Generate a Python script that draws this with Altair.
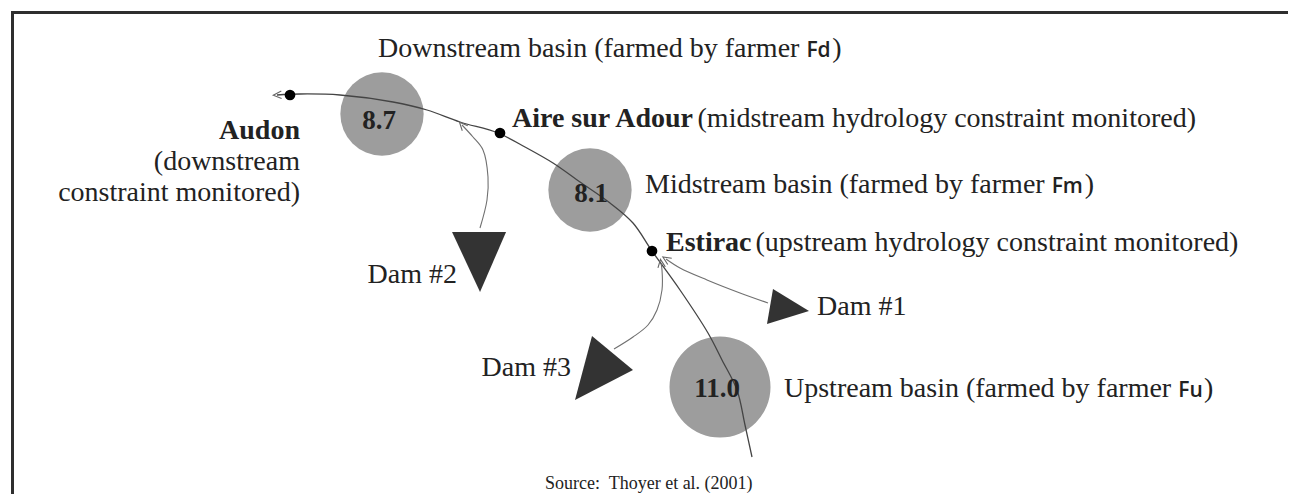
import math
import altair as alt
import pandas as pd

# ---------------- data (image-pixel coordinates of the diagram) ----------------
basin_values = ["8.7", "8.1", "11.0"]
basin_x = [382, 590, 720]
basin_y = [114, 190, 387]
basin_r = [47, 47, 57]
basin_label_x = [379, 591, 717]
basin_label_y = [129, 202, 397]

river_x = [752, 745, 737, 722, 708, 680, 652, 633, 610, 580, 553, 525, 498, 460, 427, 393, 340, 300, 277]
river_y = [457, 425, 390, 360, 333, 290, 251, 223, 203, 182, 163, 147, 133, 122, 110, 102, 95, 94, 95]

station_names = ["Audon", "Aire sur Adour", "Estirac"]
station_x = [290, 500, 652]
station_y = [95, 133, 251]

dam_names = ["Dam #1", "Dam #2", "Dam #3"]
dam_vx = [[773, 809, 767], [452, 506, 480], [592, 633, 575]]
dam_vy = [[289, 311, 324], [232, 232, 292], [336, 370, 400]]

arrow_x = [[768, 740, 707, 680, 666],
           [480, 487, 488, 483, 473, 462],
           [614, 633, 648, 657, 662, 662, 661]]
arrow_y = [[303, 293, 280, 268, 259],
           [228, 200, 177, 150, 137, 125],
           [349, 337, 325, 310, 290, 270, 263]]

title_down = "Downstream basin (farmed by farmer "
title_mid = "Midstream basin (farmed by farmer "
title_up = "Upstream basin (farmed by farmer "
farmers = ["Fd", "Fm", "Fu"]
aire_note = "(midstream hydrology constraint monitored)"
estirac_note = "(upstream hydrology constraint monitored)"
audon_note = ["(downstream", "constraint monitored)"]
source_text = "Source:\u00a0 Thoyer et al. (2001)"

# ---------------- layout helpers ----------------
W, H = 1280, 486
FS = 28
TIMES = {' ': 250, '(': 333, ')': 333, '#': 500, '.': 250, ':': 278,
         'A': 722, 'D': 722, 'E': 611, 'M': 889, 'S': 556, 'T': 611, 'U': 722, 'F': 556,
         'a': 444, 'b': 500, 'c': 444, 'd': 500, 'e': 444, 'f': 333, 'g': 500, 'h': 500,
         'i': 278, 'l': 278, 'm': 778, 'n': 500, 'o': 500, 'p': 500, 'r': 333, 's': 389,
         't': 278, 'u': 500, 'w': 722, 'y': 500}
TIMES_B = {' ': 250, 'A': 722, 'E': 667, 'a': 500, 'c': 444, 'd': 556, 'e': 444, 'i': 278,
           'o': 500, 'r': 444, 's': 389, 't': 333, 'u': 556}
SANS = {'F': 556, 'd': 627, 'm': 968, 'u': 627}


def tw(s, table, size):
    return sum(table.get(c, 500) for c in s) * size / 1000.0


SANS_FS = 21
xs = alt.Scale(domain=[8, 8 + W], nice=False, zero=False)
ys = alt.Scale(domain=[8, 8 + H], nice=False, zero=False, reverse=True)


def X(f="x"):
    return alt.X(f"{f}:Q", scale=xs, axis=None)


def Y(f="y"):
    return alt.Y(f"{f}:Q", scale=ys, axis=None)


# ---------------- frame ----------------
frame = pd.DataFrame({"x": [11, 12.5], "x2": [8 + W, 12.5], "y": [12.5, 12], "y2": [12.5, 8 + H]})
frame_layer = alt.Chart(frame).mark_rule(color="#2e2e2e", strokeWidth=3).encode(
    x=X(), x2="x2:Q", y=Y(), y2="y2:Q")

# ---------------- basins ----------------
basins = pd.DataFrame({"x": basin_x, "y": basin_y,
                       "s": [math.pi * r * r for r in basin_r]})
basin_layer = alt.Chart(basins).mark_circle(color="#9d9d9d", opacity=1).encode(
    x=X(), y=Y(), size=alt.Size("s:Q", scale=None, legend=None))

# ---------------- river ----------------
river = pd.DataFrame({"x": river_x, "y": river_y, "i": range(len(river_x))})
river_layer = alt.Chart(river).mark_line(color="#444444", strokeWidth=1.3,
                                         interpolate="catmull-rom").encode(
    x=X(), y=Y(), order="i:Q")

# ---------------- dam arrows ----------------
rows = []
for k, (ax, ay) in enumerate(zip(arrow_x, arrow_y)):
    for i, (a, b) in enumerate(zip(ax, ay)):
        rows.append({"x": a, "y": b, "i": i, "id": k})
arrows = pd.DataFrame(rows)
arrow_layer = alt.Chart(arrows).mark_line(color="#707070", strokeWidth=1.1,
                                          interpolate="catmull-rom").encode(
    x=X(), y=Y(), order="i:Q", detail="id:N")

heads = []
for ax, ay in list(zip(arrow_x, arrow_y)) + [([river_x[-2], river_x[-1]], [river_y[-2], river_y[-1]])]:
    dx, dy = ax[-1] - ax[-2], ay[-1] - ay[-2]
    ang = math.degrees(math.atan2(dx, -dy)) % 360
    heads.append({"x": ax[-1], "y": ay[-1], "a": ang})
heads = pd.DataFrame(heads)
head_layer = alt.Chart(heads).mark_point(shape="M -1 1.2 L 0 -1 L 1 1.2", filled=False,
                                         color="#666666", strokeWidth=1.1, size=55,
                                         opacity=1).encode(
    x=X(), y=Y(), angle=alt.Angle("a:Q", scale=None))

# ---------------- stations ----------------
stations = pd.DataFrame({"x": station_x, "y": station_y, "name": station_names})
station_layer = alt.Chart(stations).mark_circle(color="#000000", size=115, opacity=1).encode(
    x=X(), y=Y())

# ---------------- dams: filled triangles placed at their centroids ----------------
rows = []
for name, vx, vy in zip(dam_names, dam_vx, dam_vy):
    cx, cy = sum(vx) / 3.0, sum(vy) / 3.0
    p = "M {:.1f} {:.1f} L {:.1f} {:.1f} L {:.1f} {:.1f} Z".format(
        vx[0] - cx, vy[0] - cy, vx[1] - cx, vy[1] - cy, vx[2] - cx, vy[2] - cy)
    rows.append({"dam": name, "x": cx, "y": cy, "path": p})
dams = pd.DataFrame(rows)
dam_layer = alt.Chart(dams).mark_point(filled=True, color="#333333", opacity=1,
                                       strokeWidth=0).encode(
    x=X(), y=Y(), shape=alt.Shape("path:N", scale=None, legend=None),
    size=alt.value(4))

# ---------------- texts ----------------
def text_layer(df, **kw):
    base = dict(font="Liberation Serif", fontSize=FS, color="#222222", baseline="alphabetic")
    base.update(kw)
    return alt.Chart(df).mark_text(**base).encode(x=X(), y=Y(), text="t:N")


x_fd = 378 + tw(title_down, TIMES, FS)
x_fm = 645 + tw(title_mid, TIMES, FS)
x_fu = 784 + tw(title_up, TIMES, FS)
reg_left = pd.DataFrame({
    "t": [title_down.strip(), ")", aire_note, title_mid.strip(), ")", estirac_note, "Dam #1",
          title_up.strip(), ")"],
    "x": [378, x_fd + tw("Fd", SANS, SANS_FS) + 1,
          512 + tw("Aire sur Adour", TIMES_B, FS) + 2,
          645, x_fm + tw("Fm", SANS, SANS_FS) + 1,
          666 + tw("Estirac", TIMES_B, FS) + 4,
          817,
          784, x_fu + tw("Fu", SANS, SANS_FS) + 1],
    "y": [57, 57, 127, 193, 193, 251, 315, 397, 397]})
reg_right = pd.DataFrame({"t": audon_note + ["Dam #2", "Dam #3"],
                          "x": [300, 300, 457, 571],
                          "y": [170, 201, 283, 376]})
bold_left = pd.DataFrame({"t": ["Aire sur Adour", "Estirac"], "x": [512, 666], "y": [127, 251]})
bold_right = pd.DataFrame({"t": ["Audon"], "x": [300], "y": [139]})
sans = pd.DataFrame({"t": farmers, "x": [x_fd, x_fm, x_fu], "y": [57, 193, 397]})
nums = pd.DataFrame({"t": basin_values, "x": basin_label_x, "y": basin_label_y})
src = pd.DataFrame({"t": [source_text], "x": [545], "y": [489]})

texts = [
    text_layer(reg_left, align="left"),
    text_layer(reg_right, align="right"),
    text_layer(bold_left, align="left", fontWeight="bold"),
    text_layer(bold_right, align="right", fontWeight="bold"),
    text_layer(sans, align="left", font="Open Sans", fontSize=SANS_FS, fontWeight=600),
    text_layer(nums, align="center", fontWeight="bold", fontSize=27),
    text_layer(src, align="left", fontSize=18),
]

chart = alt.layer(
    frame_layer, basin_layer, river_layer, arrow_layer, head_layer, station_layer, dam_layer,
    *texts
).properties(width=W, height=H, padding=0, autosize="none", background="white"
             ).configure_view(stroke=None)

chart.save("out.html", embed_options={"renderer": "svg", "actions": False})
